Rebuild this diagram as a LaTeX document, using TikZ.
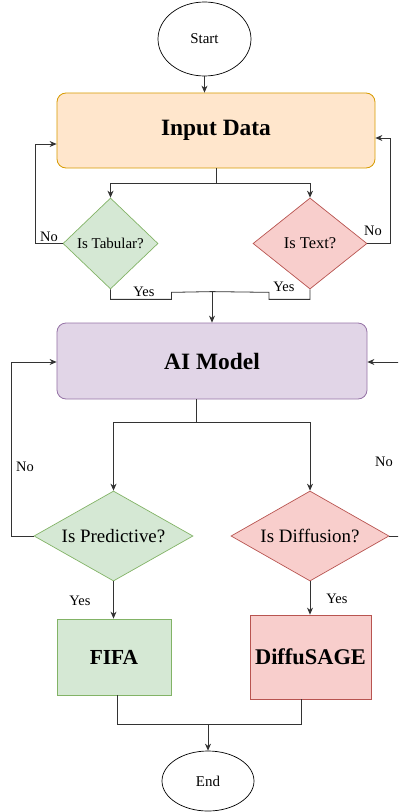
\documentclass[tikz,border=0pt]{standalone}
\usepackage{fontspec}
\setmainfont{Liberation Serif}[BoldFont={Liberation Serif Bold}]
\usetikzlibrary{shapes.geometric,arrows.meta,calc}
\definecolor{orfill}{HTML}{FFE6CC}\definecolor{ordraw}{HTML}{D79B00}
\definecolor{pufill}{HTML}{E1D5E7}\definecolor{pudraw}{HTML}{9673A6}
\definecolor{grfill}{HTML}{D5E8D4}\definecolor{grdraw}{HTML}{82B366}
\definecolor{rdfill}{HTML}{F8CECC}\definecolor{rddraw}{HTML}{B85450}
\definecolor{wire}{HTML}{333333}
\tikzset{
  terminal/.style={ellipse,draw=black,fill=white,line width=0.7pt,inner sep=0pt,
    font=\rmfamily\fontsize{15}{18}\selectfont},
  bigbox/.style={rectangle,rounded corners=9bp,line width=0.8pt,inner sep=0pt,
    font=\rmfamily\bfseries\fontsize{23.5}{27}\selectfont},
  resbox/.style={rectangle,line width=0.8pt,inner sep=0pt},
  decision/.style={diamond,shape aspect=1.7,line width=0.7pt,inner sep=0pt},
  wireline/.style={draw=wire,line width=0.8pt},
  arr/.style={wireline,-{Stealth[length=7bp,width=6bp]}},
  lbl/.style={font=\rmfamily\fontsize{14.5}{17}\selectfont,inner sep=0pt}
}
\begin{document}
\begin{tikzpicture}[x=1bp,y=-1bp]
\useasboundingbox (0,0) rectangle (398,812);
\clip (0,0) rectangle (398,812);

% nodes
\node[terminal,minimum width=93bp,minimum height=74bp] (start) at (204.5,39) {Start};
\node[bigbox,fill=orfill,draw=ordraw,minimum width=318bp,minimum height=75bp] (input) at (216,130.5) {Input Data};
\node[decision,fill=grfill,draw=grdraw,minimum width=95bp,minimum height=91bp,
  font=\rmfamily\fontsize{15}{18}\selectfont] (tab) at (110.5,243.5) {Is Tabular?};
\node[decision,fill=rdfill,draw=rddraw,minimum width=114bp,minimum height=91bp,
  font=\rmfamily\fontsize{16.5}{19}\selectfont] (txt) at (310,243.5) {Is Text?};
\node[bigbox,fill=pufill,draw=pudraw,minimum width=310bp,minimum height=76bp] (ai) at (212,361) {AI Model};
\node[decision,fill=grfill,draw=grdraw,minimum width=159bp,minimum height=90bp,
  font=\rmfamily\fontsize{19}{22}\selectfont] (pred) at (113.5,536) {Is Predictive?};
\node[decision,fill=rdfill,draw=rddraw,minimum width=158bp,minimum height=90bp,
  font=\rmfamily\fontsize{19}{22}\selectfont] (diff) at (310,536) {Is Diffusion?};
\node[resbox,fill=grfill,draw=grdraw,minimum width=114bp,minimum height=76bp,
  font=\rmfamily\bfseries\fontsize{21.5}{25}\selectfont] (fifa) at (114,657) {FIFA};
\node[resbox,fill=rdfill,draw=rddraw,minimum width=121bp,minimum height=84bp,
  font=\rmfamily\bfseries\fontsize{22.5}{26}\selectfont] (sage) at (310.5,657) {DiffuSAGE};
\node[terminal,minimum width=92bp,minimum height=60bp] (end) at (208,781) {End};

% junction points
\coordinate (split1) at ($(input.south)+(0,15)$);
\coordinate (merge1) at ($(ai.north)+(0,-31)$);
\coordinate (stem2) at ($(ai.south)+(-16,0)$);
\coordinate (split2) at ($(stem2)+(0,23)$);
\coordinate (merge2) at ($(end.north)+(0,-26)$);

% start -> input
\draw[arr] (start.south) -- (start.south |- input.north);

% input -> decisions
\draw[wireline] (input.south) -- (split1);
\draw[arr] (split1) -| (tab.north);
\draw[arr] (split1) -| (txt.north);

% "No" loops back to the input
\draw[arr] (tab.west) -- ++(-27,0) |- ($(input.west)+(0,13.5)$);
\draw[arr] (txt.east) -- ++(23,0) |- ($(input.east)+(0,7.5)$);
\node[lbl] (no1) at (49,237) {No};
\node[lbl] (no2) at (373,231) {No};

% "Yes" branches into the model
\draw[wireline] (tab.south) -- ++(0,10) -- ++(61,0) -- ++(0,-7) -- (merge1);
\draw[wireline] (txt.south) -- ++(0,10) -- ++(-41,0) -- ++(0,-7) -- (merge1);
\draw[arr] (merge1) -- (ai.north);
\node[lbl] (yes1) at (144,292) {Yes};
\node[lbl] (yes2) at (284,287) {Yes};

% model -> decisions
\draw[wireline] (stem2) -- (split2);
\draw[arr] (split2) -| (pred.north);
\draw[arr] (split2) -| (diff.north);

% "No" loops back to the model
\draw[arr] (pred.west) -- ++(-22,0) |- ($(ai.west)+(0,1)$);
\draw[arr] (diff.east) -- ++(40,0) |- ($(ai.east)+(0,1)$);
\node[lbl] (no3) at (25,467) {No};
\node[lbl] (no4) at (384,462) {No};

% "Yes" -> results
\draw[arr] (pred.south) -- (pred.south |- fifa.north);
\draw[arr] (diff.south) -- (diff.south |- sage.north);
\node[lbl] (yes3) at (80,601) {Yes};
\node[lbl] (yes4) at (337,599) {Yes};

% results -> end
\draw[wireline] ($(fifa.south)+(3,0)$) |- (merge2);
\draw[wireline] ($(sage.south)+(-9.5,0)$) |- (merge2);
\draw[arr] (merge2) -- (end.north);
\end{tikzpicture}
\end{document}
